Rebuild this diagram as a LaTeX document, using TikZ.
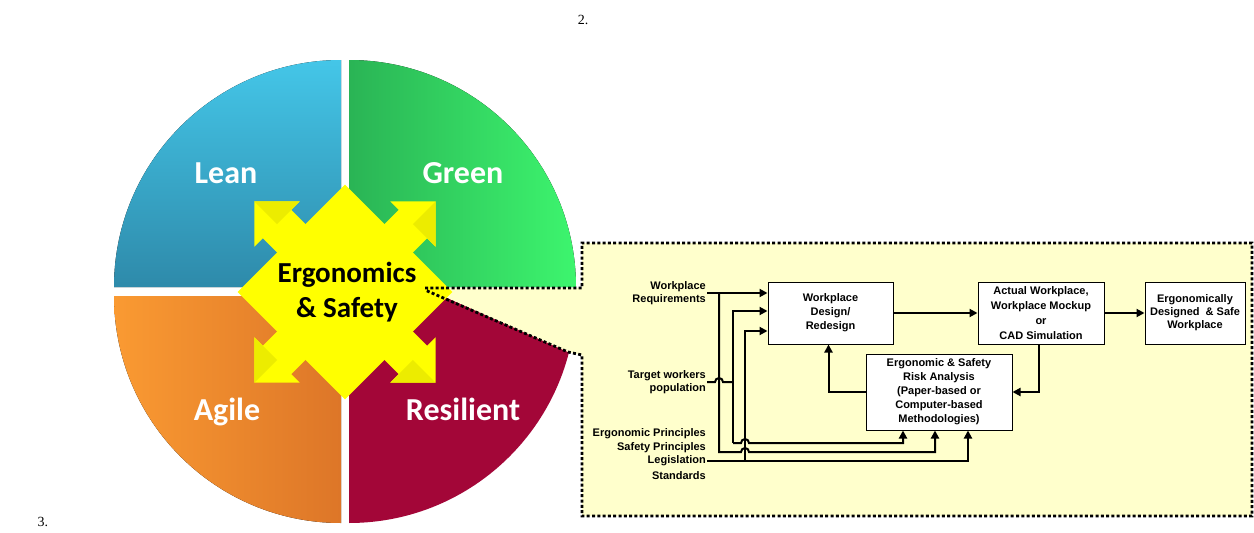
\documentclass[tikz,border=0pt]{standalone}
\usepackage{fontspec}
\setmainfont{Liberation Serif}
\newfontfamily\calibri{Carlito}
\newfontfamily\arial{Liberation Sans}
\usetikzlibrary{arrows.meta,calc}

\definecolor{leantop}{RGB}{68,198,232}
\definecolor{leanbot}{RGB}{46,138,170}
\definecolor{greenleft}{RGB}{42,180,85}
\definecolor{greenright}{RGB}{61,245,110}
\definecolor{agileleft}{RGB}{250,154,50}
\definecolor{agileright}{RGB}{221,118,40}
\definecolor{resil}{RGB}{163,6,56}
\definecolor{calloutbg}{RGB}{255,255,204}
\definecolor{staryellow}{RGB}{255,255,0}
\definecolor{stardark}{RGB}{236,236,0}

\begin{document}
\begin{tikzpicture}[
    x=1pt, y=-1pt,
    >={Triangle[length=8pt,width=8pt]},
    qlabel/.style={anchor=base, text=white, font=\calibri\bfseries\fontsize{32}{38}\selectfont},
    box/.style={rectangle, draw, fill=white, line width=1pt, align=center, inner sep=1pt, font=\arial\bfseries\fontsize{11}{14}\selectfont},
    lbl/.style={anchor=east, align=right, inner sep=1pt, font=\arial\bfseries\fontsize{11}{12.5}\selectfont},
    flow/.style={line width=2pt},
    callout/.style={line width=2.8pt, dash pattern=on 3pt off 2.3pt}
]
\useasboundingbox (0,0) rectangle (1254,533);

% Four quadrants
\fill[top color=leantop, bottom color=leanbot] (341,287) -- (114,287) arc[start angle=180, end angle=90, radius=227pt] -- cycle;
\fill[left color=greenleft, right color=greenright] (349,287) -- (349,60) arc[start angle=90, end angle=0, radius=227pt] -- cycle;
\fill[left color=agileleft, right color=agileright] (341,296) -- (114,296) arc[start angle=180, end angle=270, radius=227pt] -- cycle;
\fill[resil] (349,296) -- (576,296) arc[start angle=0, end angle=-90, radius=227pt] -- cycle;

\node[qlabel] (lean) at (226,183) {Lean};
\node[qlabel] (green) at (463,183) {Green};
\node[qlabel] (agile) at (227,420) {Agile};
\node[qlabel] (resilient) at (463,420) {Resilient};

% Callout background
\fill[calloutbg] (425,288) -- (582,288) -- (582,243) -- (1252,243) -- (1252,516)
    -- (582,516) -- (582,355) -- (568,352) -- cycle;

% Centre star with four arrows
\begin{scope}[shift={(345,292)}]
  \fill[staryellow, rotate=45] (-76,-76) rectangle (76,76);
  \foreach \a in {45,135,225,315} {
    \fill[staryellow, rotate=\a] (72,-20) -- (96,-20) -- (96,-32) -- (128,0)
        -- (96,32) -- (96,20) -- (72,20) -- cycle;
    \fill[stardark, rotate=\a] (96,0) -- (128,0) -- (96,32) -- (96,20) -- cycle;
  }
\end{scope}
\node[align=center, font=\calibri\bfseries\fontsize{29}{35}\selectfont] (ergo) at (347,292) {Ergonomics\\\& Safety};

% Callout outline
\draw[callout] (425,288) -- (582,288) -- (582,243) -- (1252,243) -- (1252,516)
    -- (582,516) -- (582,355) -- (568,352) -- (425,290);

% Flow diagram: boxes
\node[box, minimum width=125pt, minimum height=62pt] (wpd) at (830.5,313) {Workplace\\Design/\\Redesign};
\node[box, minimum width=126pt, minimum height=62pt, font=\arial\bfseries\fontsize{11}{15}\selectfont] (actual) at (1041,313) {Actual Workplace,\\Workplace Mockup\\or\\CAD Simulation};
\node[box, minimum width=100pt, minimum height=62pt, font=\arial\bfseries\fontsize{11}{13}\selectfont] (final) at (1195,313) {Ergonomically\\Designed\ \ \& Safe\\Workplace};
\node[box, minimum width=146pt, minimum height=76pt] (risk) at (939,392) {Ergonomic \& Safety\\Risk Analysis\\(Paper-based or\\Computer-based\\Methodologies)};

% Flow diagram: inputs
\node[lbl] (req) at (707,293) {Workplace\\Requirements};
\node[lbl] (target) at (707,382) {Target workers\\population};
\node[lbl] (ergp) at (707,434) {Ergonomic Principles};
\node[lbl] (safp) at (707,448) {Safety Principles};
\node[lbl] (legis) at (707,461) {Legislation};
\node[lbl] (stds) at (707,476) {Standards};

\coordinate (j1) at (719,293);
\coordinate (j2) at (733,382);
\coordinate (j3) at (745,461);

% Requirements
\draw[flow,->] (req.east) -- (wpd.west |- req.east);
\draw[flow,->] (j1) -- (719,452) -- (741,452) arc[start angle=180, end angle=0, radius=4pt]
    -| ([xshift=-4pt]risk.south);
% Target workers
\draw[flow] (target.east) -- (715,382) arc[start angle=180, end angle=0, radius=4pt] -- (j2);
\draw[flow,->] (733,443) |- ([yshift=2pt]wpd.west);
\draw[flow,->] (733,443) -- (741,443) arc[start angle=180, end angle=0, radius=4pt]
    -| ([xshift=-36pt]risk.south);
% Legislation
\draw[flow,->] (legis.east) -| ([xshift=29pt]risk.south);
\draw[flow,->] (j3) |- ([yshift=-18pt]wpd.west);

% Main loop
\draw[flow,->] (wpd.east) -- (actual.west);
\draw[flow,->] (actual.east) -- (final.west);
\draw[flow,->] ([xshift=-2pt]actual.south) |- (risk.east);
\draw[flow,->] (risk.west) -| ([xshift=-2pt]wpd.south);

% Page numbers
\node[font=\fontsize{14}{16}\selectfont] (two) at (583,20) {2.};
\node[font=\fontsize{14}{16}\selectfont] (three) at (43,522) {3.};
\end{tikzpicture}
\end{document}
